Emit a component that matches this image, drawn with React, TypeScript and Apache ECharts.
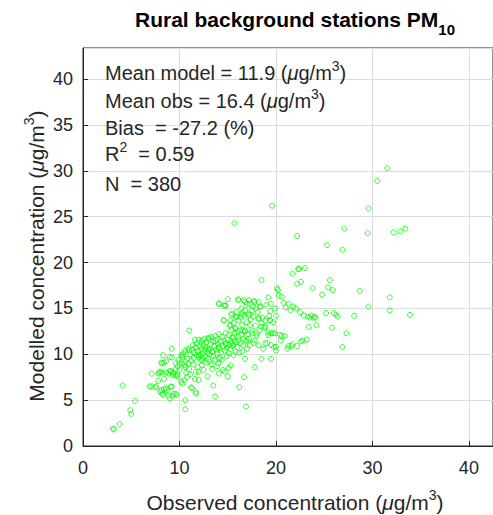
import React, { useEffect, useRef } from "react";
import * as echarts from "echarts";

// Observed (x) vs modelled (y) concentrations, µg/m3
const tailPoints: number[][] = [
  [3.1, 1.9], [3.2, 1.8], [3.8, 2.4], [4.1, 6.6], [4.9, 3.9], [5.0, 3.5], [5.4, 4.9],
];
const lowPoints: number[][] = [
  [6.9, 6.5], [7.1, 7.9], [7.1, 6.5], [7.5, 6.4], [7.6, 6.5], [7.8, 7.1], [7.8, 7.9], [7.9, 8.0],
  [8.0, 5.9], [8.0, 8.1], [8.1, 9.1], [8.1, 6.1], [8.2, 5.7], [8.2, 8.0], [8.2, 9.0], [8.3, 9.9],
  [8.3, 5.6], [8.4, 7.3], [8.4, 6.2], [8.4, 9.1], [8.6, 9.25], [8.6, 8.0], [8.6, 6.3], [8.7, 6.1],
  [8.9, 7.9], [8.9, 5.5], [9.0, 5.2], [9.0, 9.7], [9.0, 8.2], [9.1, 8.1], [9.1, 6.5], [9.2, 10.6],
  [9.2, 9.65], [9.2, 6.45], [9.3, 8.0], [9.3, 7.7], [9.3, 5.5], [9.4, 7.9], [9.4, 5.7], [9.6, 7.7],
  [9.6, 5.7], [9.6, 8.4], [9.7, 5.6], [9.8, 7.8], [9.8, 8.7], [9.8, 7.6], [9.9, 9.4], [10.0, 9.0],
  [10.0, 8.3],
];
const midPoints: number[][] = [
  [10.2, 9.9], [10.2, 7.0], [10.3, 9.0], [10.3, 6.8], [10.3, 9.7], [10.4, 10.1], [10.5, 7.2], [10.5, 8.8],
  [10.6, 5.0], [10.6, 4.0], [10.6, 10.4], [10.6, 9.2], [10.7, 8.0], [10.8, 9.5], [10.8, 7.5], [10.9, 10.6],
  [11.0, 12.6], [11.0, 9.0], [11.0, 8.4], [11.1, 10.0], [11.1, 7.8], [11.2, 6.4], [11.2, 9.3], [11.3, 6.3],
  [11.3, 10.5], [11.4, 8.9], [11.4, 11.0], [11.5, 10.2], [11.5, 9.6], [11.6, 7.3], [11.6, 11.6], [11.7, 5.7],
  [11.7, 5.9], [11.7, 8.1], [11.7, 10.7], [11.8, 9.9], [11.8, 11.2], [11.9, 10.3], [11.9, 8.6], [12.0, 7.2],
  [12.0, 11.6], [12.0, 9.7], [12.0, 8.1], [12.1, 10.0], [12.1, 10.9], [12.2, 9.4], [12.2, 11.3], [12.3, 8.8],
  [12.3, 10.6], [12.4, 10.1], [12.4, 9.6], [12.5, 11.0], [12.5, 8.3], [12.6, 10.4], [12.6, 11.7], [12.7, 9.8],
  [12.7, 10.8], [12.8, 9.1], [12.8, 11.3], [12.9, 10.2], [12.9, 7.6], [13.0, 10.5], [13.0, 11.8], [13.0, 9.5],
  [13.1, 9.2], [13.1, 10.0],
];
const corePoints: number[][] = [
  [13.2, 11.1], [13.2, 10.6], [13.3, 8.9], [13.3, 11.9], [13.4, 8.4], [13.4, 10.3], [13.5, 6.6], [13.5, 9.8],
  [13.5, 11.4], [13.6, 10.9], [13.7, 5.4], [13.7, 12.0], [13.7, 9.4], [13.8, 10.5], [13.8, 11.6], [13.9, 8.7],
  [13.9, 10.1], [14.0, 11.1], [14.0, 9.0], [14.1, 7.9], [14.1, 15.5], [14.1, 12.2], [14.1, 10.7], [14.2, 9.6],
  [14.3, 11.4], [14.3, 10.2], [14.4, 11.9], [14.4, 9.4], [14.5, 10.9], [14.5, 8.3], [14.6, 15.3], [14.6, 13.7],
  [14.6, 11.5], [14.7, 10.4], [14.7, 8.1], [14.8, 15.3], [14.8, 11.1], [14.8, 12.3], [14.9, 9.8], [14.9, 10.7],
  [15.0, 16.0], [15.0, 7.6], [15.0, 11.6], [15.1, 12.1], [15.1, 8.5], [15.1, 10.1], [15.2, 11.0], [15.2, 13.1],
  [15.3, 13.7], [15.3, 11.4], [15.3, 8.8], [15.3, 10.6], [15.4, 14.3], [15.4, 12.7], [15.4, 11.2], [15.5, 10.9],
  [15.5, 11.8], [15.6, 13.4], [15.6, 11.0], [15.6, 9.9], [15.7, 24.3], [15.7, 12.3], [15.7, 11.5], [15.8, 14.1],
  [15.8, 10.3], [15.8, 12.9], [15.9, 11.3], [15.9, 14.6], [16.0, 10.8], [16.0, 12.5], [16.1, 16.0], [16.1, 11.9],
  [16.1, 13.7], [16.2, 6.4], [16.2, 10.2], [16.3, 11.2], [16.3, 14.0], [16.4, 12.1], [16.4, 15.0], [16.5, 14.5],
  [16.5, 10.3], [16.5, 13.2], [16.6, 11.0], [16.6, 12.6], [16.7, 15.9], [16.7, 7.5], [16.7, 14.2], [16.8, 14.8],
  [16.8, 12.6], [16.8, 9.5], [16.9, 4.3], [16.9, 11.5], [17.0, 10.6], [17.0, 13.5], [17.0, 15.5],
];
const densePoints: number[][] = [
  [14.06, 15.54], [14.7, 15.36], [16.1, 15.9], [16.8, 15.7], [17.3, 15.5], [17.8, 15.7], [18.35, 15.2],
  [15.4, 14.45], [15.95, 14.1], [16.46, 14.27], [17.15, 14.45], [17.67, 14.1], [18.2, 13.9], [18.9, 13.7],
  [19.4, 13.7], [14.58, 13.72], [15.27, 13.2], [15.8, 12.8], [16.3, 12.6], [16.8, 12.45], [17.5, 12.6],
  [18.0, 12.27], [17.3, 13.2], [18.5, 13.0], [15.6, 11.9], [16.1, 11.5], [16.6, 11.7], [17.15, 11.4],
  [19.2, 12.1], [19.7, 12.3], [12.35, 11.54], [13.0, 11.7], [13.7, 11.4], [11.66, 10.8], [11.0, 10.45],
  [12.7, 10.6], [13.4, 10.27], [14.06, 10.8], [14.75, 11.2], [10.3, 9.9], [12.0, 9.9], [9.6, 9.0],
  [10.6, 8.6], [12.35, 9.36], [14.06, 9.5],
];
const upperPoints: number[][] = [
  [17.1, 12.2], [17.2, 15.9], [17.2, 14.3], [17.2, 11.7], [17.3, 11.0], [17.4, 13.8], [17.5, 14.8], [17.5, 12.3],
  [17.6, 15.2], [17.7, 15.8], [17.7, 11.2], [17.8, 11.5], [17.8, 8.6], [17.9, 13.1], [17.9, 15.0], [18.0, 12.0],
  [18.1, 14.6], [18.2, 15.7], [18.2, 13.9], [18.2, 11.0], [18.3, 12.6], [18.4, 15.2], [18.5, 18.1], [18.5, 13.4],
  [18.5, 9.5], [18.6, 14.0], [18.7, 10.6], [18.8, 12.9], [18.9, 13.0], [18.9, 11.2], [19.0, 15.4], [19.1, 11.2],
  [19.2, 16.2], [19.2, 12.4], [19.3, 14.2], [19.4, 14.7], [19.4, 13.7], [19.5, 12.3], [19.5, 15.5], [19.5, 11.0],
  [19.5, 9.5], [19.6, 26.2], [19.7, 13.5], [19.8, 10.8], [19.9, 15.0], [19.9, 12.3], [20.0, 10.4], [20.0, 10.8],
  [20.0, 14.2],
];
const highPoints: number[][] = [
  [20.1, 17.2], [20.2, 17.0], [20.3, 16.4], [20.4, 12.1], [20.5, 11.5], [20.6, 16.3], [20.6, 12.0], [20.8, 15.6],
  [20.9, 12.0], [21.0, 15.1], [21.2, 10.6], [21.3, 15.5], [21.3, 10.9], [21.5, 14.8], [21.6, 10.9], [21.7, 18.8],
  [21.7, 11.1], [21.8, 15.2], [22.1, 15.0], [22.2, 22.9], [22.2, 17.7], [22.2, 10.9], [22.3, 19.3], [22.4, 19.3],
  [22.5, 14.6], [22.6, 17.9], [22.6, 11.4], [22.8, 11.5], [22.9, 14.2], [23.0, 19.4], [23.2, 11.6], [23.3, 14.1],
  [23.4, 13.0], [23.5, 14.0], [23.7, 14.2], [23.8, 17.2], [23.9, 14.0], [24.0, 14.1], [24.1, 14.0], [24.2, 13.2],
];
const outlierPoints: number[][] = [
  [24.8, 16.5], [25.2, 14.5], [25.3, 21.9], [25.4, 17.3], [25.6, 18.1], [25.8, 12.9], [25.9, 17.0], [26.0, 14.5],
  [26.2, 14.3], [26.4, 14.1], [26.9, 21.4], [26.9, 10.8], [27.1, 23.7], [27.3, 12.3], [28.1, 14.2], [28.7, 16.9],
  [29.5, 23.2], [29.6, 25.9], [29.6, 15.2], [30.5, 28.9], [31.55, 30.3], [31.8, 16.2], [31.8, 14.8], [32.2, 23.3],
  [32.9, 23.4], [33.4, 23.7], [33.9, 14.3],
];

const xTicks = [0, 10, 20, 30, 40];
const yTicks = [0, 5, 10, 15, 20, 25, 30, 35, 40];
const statsLines = [
  ["Mean model = 11.9 (", "μ", "g/m", "3", ")"],
  ["Mean obs = 16.4 (", "μ", "g/m", "3", ")"],
  ["Bias  = -27.2 (%)"],
  ["R", "2", "  = 0.59"],
  ["N  = 380"],
];

const FONT = "'Liberation Sans', Arial, Helvetica, sans-serif";
const INK = "#262626";

export default function App() {
  const ref = useRef<HTMLDivElement>(null);

  useEffect(() => {
    if (!ref.current) return;
    const chart = echarts.init(ref.current, null, { renderer: "svg" });
    const allPoints = [
      ...tailPoints, ...lowPoints, ...midPoints, ...corePoints, ...densePoints,
      ...upperPoints, ...highPoints, ...outlierPoints,
    ];

    const makeRich = (fs: number, sfs: number) => ({
      n: { fontSize: fs, fontFamily: FONT, fill: INK, lineHeight: fs + 4, verticalAlign: "bottom" },
      mu: { fontSize: fs, fontFamily: FONT, fill: INK, fontStyle: "italic", lineHeight: fs + 4, verticalAlign: "bottom" },
      sup: { fontSize: sfs, fontFamily: FONT, fill: INK, lineHeight: sfs, verticalAlign: "top" },
    });
    const statsRich = makeRich(20, 14);
    const titleRich = makeRich(21, 14);

    const toRich = (parts: string[]) => {
      if (parts.length === 1) return `{n|${parts[0]}}`;
      if (parts.length === 3) return `{n|${parts[0]}}{sup|${parts[1]}}{n|${parts[2]}}`;
      return `{n|${parts[0]}}{mu|${parts[1]}}{n|${parts[2]}}{sup|${parts[3]}}{n|${parts[4]}}`;
    };

    const statsY = [71, 99, 125.5, 152, 181.5];
    const statsTexts = statsLines.map((parts, i) => ({
      type: "text",
      x: 105,
      y: statsY[i],
      style: { text: toRich(parts), rich: statsRich, verticalAlign: "middle" },
      z: 10,
    }));

    chart.setOption({
      animation: false,
      backgroundColor: "#ffffff",
      grid: {
        left: 83,
        top: 48,
        width: 413,
        height: 398,
        show: true,
        borderColor: INK,
        borderWidth: 1,
        backgroundColor: "transparent",
      },
      xAxis: {
        type: "value",
        min: 0,
        max: 42.5,
        interval: 10,
        axisLine: { show: true, lineStyle: { color: INK, width: 1 } },
        axisTick: { show: true, inside: true, length: 5, lineStyle: { color: INK } },
        axisLabel: {
          color: INK,
          fontSize: 18,
          fontFamily: FONT,
          margin: 13,
          showMaxLabel: false,
          formatter: (v: number) => (xTicks.includes(v) ? String(v) : ""),
        },
        splitLine: { show: true, lineStyle: { color: "#dcdcdc", width: 1 } },
      },
      yAxis: {
        type: "value",
        min: 0,
        max: 43.4,
        interval: 5,
        axisLine: { show: true, lineStyle: { color: INK, width: 1 } },
        axisTick: { show: true, inside: true, length: 5, lineStyle: { color: INK } },
        axisLabel: {
          color: INK,
          fontSize: 18,
          fontFamily: FONT,
          margin: 10,
          showMaxLabel: false,
          formatter: (v: number) => (yTicks.includes(v) ? String(v) : ""),
        },
        splitLine: { show: true, lineStyle: { color: "#dcdcdc", width: 1 } },
      },
      series: [
        {
          type: "scatter",
          data: allPoints,
          symbol: "circle",
          symbolSize: 5,
          itemStyle: { color: "rgba(0,0,0,0)", borderColor: "#00ff00", borderWidth: 1 },
          emphasis: { disabled: true },
        },
      ],
      graphic: [
        {
          type: "text",
          x: 295,
          y: 9,
          style: {
            text: "{t|Rural background stations PM}{s|10}",
            align: "center",
            verticalAlign: "top",
            rich: {
              t: { fontSize: 21, fontWeight: "bold", fontFamily: FONT, fill: "#000", lineHeight: 24, verticalAlign: "top" },
              s: { fontSize: 15, fontWeight: "bold", fontFamily: FONT, fill: "#000", lineHeight: 16, verticalAlign: "top", padding: [13, 0, 0, 0] },
            },
          },
        },
        ...statsTexts,
        {
          type: "text",
          x: 295,
          y: 500,
          style: {
            text: "{n|Observed concentration (}{mu|μ}{n|g/m}{sup|3}{n|)}",
            align: "center",
            verticalAlign: "middle",
            rich: titleRich,
          },
        },
        {
          type: "text",
          x: 34,
          y: 256,
          rotation: Math.PI / 2,
          style: {
            text: "{n|Modelled concentration (}{mu|μ}{n|g/m}{sup|3}{n|)}",
            align: "center",
            verticalAlign: "middle",
            rich: titleRich,
          },
        },
      ],
    });

    return () => chart.dispose();
  }, []);

  return (
    <div
      ref={ref}
      style={{ position: "absolute", left: 0, top: 0, width: 493, height: 515, background: "#fff" }}
    />
  );
}
